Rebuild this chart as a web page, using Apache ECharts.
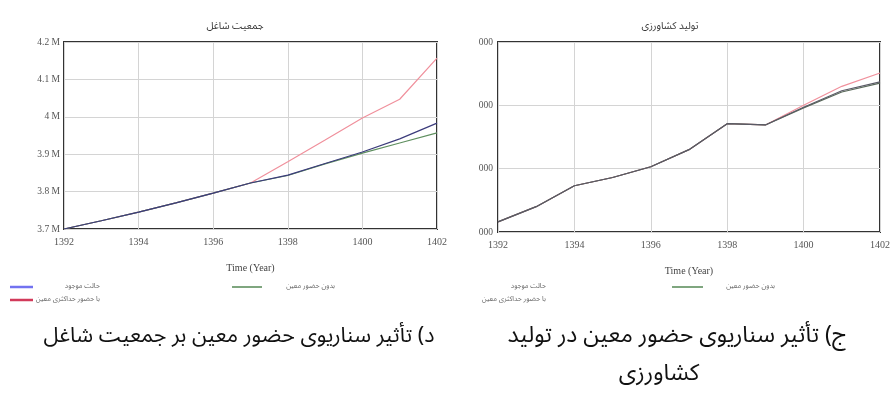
<!DOCTYPE html>
<html><head><meta charset="utf-8">
<script src="https://cdn.jsdelivr.net/npm/echarts@6/dist/echarts.min.js"></script>
<style>html,body{margin:0;padding:0;background:#fff}#c{width:895px;height:404px}</style>
</head><body><div id="c"></div>
<script>
// ---- data ----
const years = [1392,1393,1394,1395,1396,1397,1398,1399,1400,1401,1402];
const xTickLabels = ['1392','1394','1396','1398','1400','1402'];

// Left panel: employed population
const leftTitle = 'جمعیت شاغل';
const empCurrent     = [3700000,3722000,3745000,3770000,3796000,3823000,3844000,3875000,3906000,3941000,3983000];
const empNoPresence  = [3700000,3722000,3745000,3770000,3796000,3823000,3843000,3874000,3903000,3930000,3957000];
const empMaxPresence = [3700000,3722000,3745000,3770000,3796000,3823000,3880000,3938000,3997000,4047000,4157000];
const leftYTickLabels = ['3.7 M','3.8 M','3.9 M','4 M','4.1 M','4.2 M'];

// Right panel: agricultural production (in tick-step units)
const rightTitle = 'تولید کشاورزی';
const agriCurrent     = [0.16,0.40,0.73,0.86,1.03,1.30,1.71,1.69,1.97,2.23,2.37];
const agriNoPresence  = [0.16,0.40,0.73,0.86,1.03,1.30,1.71,1.69,1.96,2.21,2.35];
const agriMaxPresence = [0.16,0.40,0.73,0.86,1.03,1.30,1.71,1.69,2.00,2.30,2.51];
const rightYTickLabels = ['000','000','000','000'];

const seriesNames = ['حالت موجود','بدون حضور معین','با حضور حداکثری معین'];
const xAxisName = 'Time (Year)';
const captionLeft = 'د) تأثیر سناریوی حضور معین بر جمعیت شاغل';
const captionRight1 = 'ج) تأثیر سناریوی حضور معین در تولید';
const captionRight2 = 'کشاورزی';

// ---- build ----
const pairs = arr => years.map((y,i)=>[y,arr[i]]);
const serif = 'Liberation Serif, Times New Roman, serif';
const arab = 'Noto Sans Arabic, DejaVu Sans, sans-serif';
const lineCol = {blue:'#3c3c7c', green:'#5f8f5f', red:'#f0909c'};
const legCol = {blue:'#7272f0', green:'#7fa67f', red:'#d23a5a'};

function xAxisCfg(gi){
  return {gridIndex:gi, type:'value', min:1392, max:1402, interval:2,
    name:xAxisName, nameLocation:'middle', nameGap:34,
    nameTextStyle:{fontFamily:serif, fontSize:10, color:'#444'},
    axisLine:{show:false}, axisTick:{show:false},
    axisLabel:{fontFamily:serif, fontSize:10, color:'#555', margin:8,
      formatter:(v,i)=>xTickLabels[i]},
    splitLine:{show:true, lineStyle:{color:'#d4d4d4', width:1}}};
}
function lineS(name, xi, data, color, z){
  return {name, type:'line', xAxisIndex:xi, yAxisIndex:xi, data:pairs(data),
    symbol:'none', smooth:false, z, lineStyle:{color, width:1.2}, itemStyle:{color}};
}

const legFont = '7px ' + arab;
const legend = (x0, withSwatch, textRight1, gx0, gx1, textRight2) => {
  const els = [];
  if (withSwatch) {
    els.push({type:'line', shape:{x1:x0, y1:287, x2:x0+23, y2:287}, style:{stroke:legCol.blue, lineWidth:2.5}});
    els.push({type:'line', shape:{x1:x0, y1:300, x2:x0+23, y2:300}, style:{stroke:legCol.red, lineWidth:2.5}});
  }
  els.push({type:'text', x:textRight1, y:287, style:{text:seriesNames[0], font:legFont, fill:'#666', align:'right', verticalAlign:'middle'}});
  els.push({type:'text', x:textRight1, y:300, style:{text:seriesNames[2], font:legFont, fill:'#666', align:'right', verticalAlign:'middle'}});
  els.push({type:'line', shape:{x1:gx0, y1:287, x2:gx1, y2:287}, style:{stroke:legCol.green, lineWidth:2}});
  els.push({type:'text', x:textRight2, y:287, style:{text:seriesNames[1], font:legFont, fill:'#666', align:'right', verticalAlign:'middle'}});
  return els;
};

const option = {
  backgroundColor:'#fff',
  animation:false,
  title:[
    {text:leftTitle, left:230, top:17, textAlign:'center', textStyle:{fontFamily:arab, fontSize:10, fontWeight:'normal', color:'#333'}},
    {text:rightTitle, left:665, top:17, textAlign:'center', textStyle:{fontFamily:arab, fontSize:10, fontWeight:'normal', color:'#333'}}
  ],
  grid:[
    {left:64, top:42, width:373, height:187, show:true, borderColor:'#333', borderWidth:2, backgroundColor:'#fff'},
    {left:498, top:42, width:382, height:190, show:true, borderColor:'#333', borderWidth:2, backgroundColor:'#fff'}
  ],
  xAxis:[xAxisCfg(0), xAxisCfg(1)],
  yAxis:[
    {gridIndex:0, type:'value', min:3700000, max:4200000, interval:100000,
     axisLine:{show:false}, axisTick:{show:false},
     axisLabel:{fontFamily:serif, fontSize:9.5, color:'#555', margin:4, formatter:(v,i)=>leftYTickLabels[i]},
     splitLine:{show:true, lineStyle:{color:'#d4d4d4', width:1}}},
    {gridIndex:1, type:'value', min:0, max:3, interval:1,
     axisLine:{show:false}, axisTick:{show:false},
     axisLabel:{fontFamily:serif, fontSize:9.5, color:'#555', margin:5, formatter:(v,i)=>rightYTickLabels[i]},
     splitLine:{show:true, lineStyle:{color:'#d4d4d4', width:1}}}
  ],
  series:[
    lineS(seriesNames[2], 0, empMaxPresence, lineCol.red, 2),
    lineS(seriesNames[1], 0, empNoPresence, lineCol.green, 3),
    lineS(seriesNames[0], 0, empCurrent, lineCol.blue, 4),
    lineS(seriesNames[2], 1, agriMaxPresence, lineCol.red, 2),
    lineS(seriesNames[1], 1, agriNoPresence, '#5a6a5a', 3),
    lineS(seriesNames[0], 1, agriCurrent, '#5a5a66', 4)
  ],
  graphic:[
    ...legend(10, true, 100, 232, 262, 335),
    ...legend(450, false, 546, 672, 703, 775),
    {type:'text', x:239, y:339, style:{text:captionLeft, font:'21.5px '+arab, fill:'#111', align:'center', verticalAlign:'middle'}},
    {type:'text', x:677, y:339, style:{text:captionRight1, font:'23px '+arab, fill:'#111', align:'center', verticalAlign:'middle'}},
    {type:'text', x:659, y:377, style:{text:captionRight2, font:'23px '+arab, fill:'#111', align:'center', verticalAlign:'middle'}}
  ]
};
const chart = echarts.init(document.getElementById('c'), null, {renderer:'canvas'});
chart.setOption(option);
</script></body></html>
